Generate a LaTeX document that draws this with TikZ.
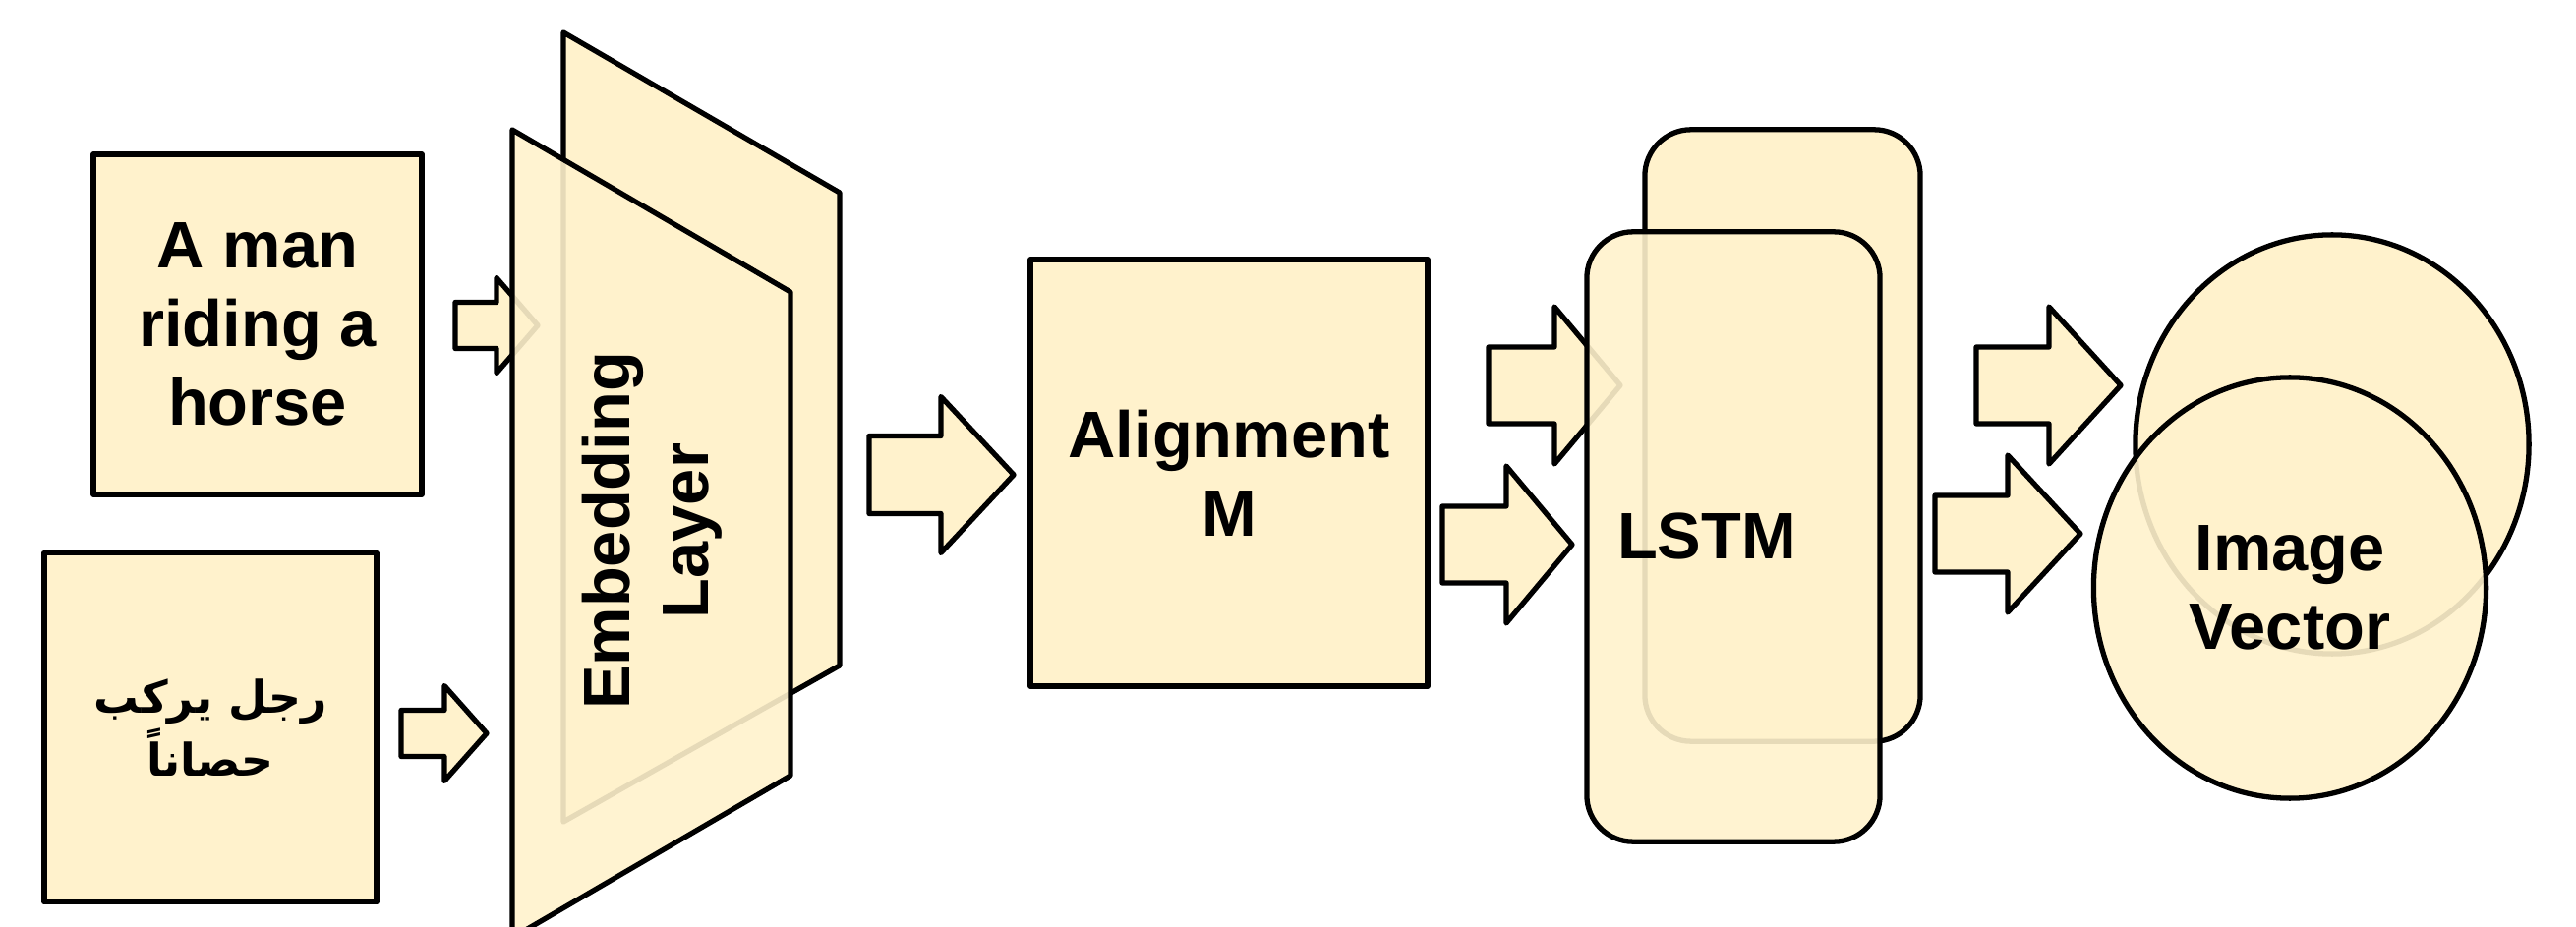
\documentclass[tikz,border=0pt]{standalone}
\usepackage{fontspec}
\setmainfont{Liberation Sans}
\newfontfamily\arabicfont[Script=Arabic]{DejaVu Sans}
\TeXXeTstate=1
\usepackage{xcolor}
\usetikzlibrary{shapes.geometric}
\usetikzlibrary{positioning}
\definecolor{paleyellow}{HTML}{FFF2CC}
% shaft left, head base, tip, mid y, shaft half, head half
\newcommand{\fatarrow}[6]{%
  \draw[blockarrow] (#1,#4-#5) -- (#2,#4-#5) -- (#2,#4-#6) -- (#3,#4)
    -- (#2,#4+#6) -- (#2,#4+#5) -- (#1,#4+#5) -- cycle;}

\begin{document}
\begin{tikzpicture}[x=0.01cm,y=-0.01cm,line width=1.5pt,line join=round,
    font=\bfseries\fontsize{19}{22.8}\selectfont]
  \tikzstyle{panel}=[draw,fill=paleyellow,inner sep=0pt]
  \tikzstyle{front}=[draw,fill=paleyellow,fill opacity=0.9,text opacity=1,inner sep=0pt]
  \tikzstyle{blockarrow}=[draw,fill=paleyellow]
  \useasboundingbox (0,0) rectangle (2620,943);

  % sentences
  \node[panel,minimum width=3.34cm,minimum height=3.46cm,align=center] (en) at (262,330) {A man\\riding a\\horse};
  \node[panel,minimum width=3.38cm,minimum height=3.55cm,align=center,
    font=\arabicfont\bfseries\fontsize{13}{18}\selectfont] (ar) at (214,740)
    {\beginR رجل يركب\endR\\\beginR حصاناً\endR};

  % embedding layer
  \draw[panel] (573,33) -- (854,196) -- (854,677) -- (573,836) -- cycle;
  \fatarrow{463}{505}{547}{331}{23.5}{48.5}
  \fatarrow{408}{452}{495}{746}{23.5}{48.5}
  \draw[front] (521,132) -- (804,297) -- (804,789) -- (521,954) -- cycle;
  \node[rotate=90,align=center] (emb) at (663,540) {Embedding\\Layer};

  % alignment
  \fatarrow{884}{957}{1031}{483}{39.5}{79.5}
  \node[panel,minimum width=4.04cm,minimum height=4.34cm,align=center] (alm) at (1250,481) {Alignment\\M};

  % lstm
  \node[panel,rounded corners=0.47cm,minimum width=2.8cm,minimum height=6.22cm] (lstmback) at (1813,443) {};
  \fatarrow{1514}{1581}{1648}{392}{39}{80}
  \fatarrow{1467}{1532}{1599}{554}{39}{80}
  \node[front,rounded corners=0.47cm,minimum width=2.98cm,minimum height=6.2cm] (lstmfront) at (1763,546) {};
  \node (lstm) at (1736,546) {LSTM};

  % image vector
  \node[panel,ellipse,minimum width=4cm,minimum height=4.26cm] (ivback) at (2372,452) {};
  \fatarrow{2010}{2084}{2157}{392}{39}{80}
  \fatarrow{1968}{2042}{2116}{543}{39}{80}
  \node[front,ellipse,minimum width=3.99cm,minimum height=4.28cm,align=center] (iv) at (2329,598) {Image\\Vector};
\end{tikzpicture}
\end{document}
